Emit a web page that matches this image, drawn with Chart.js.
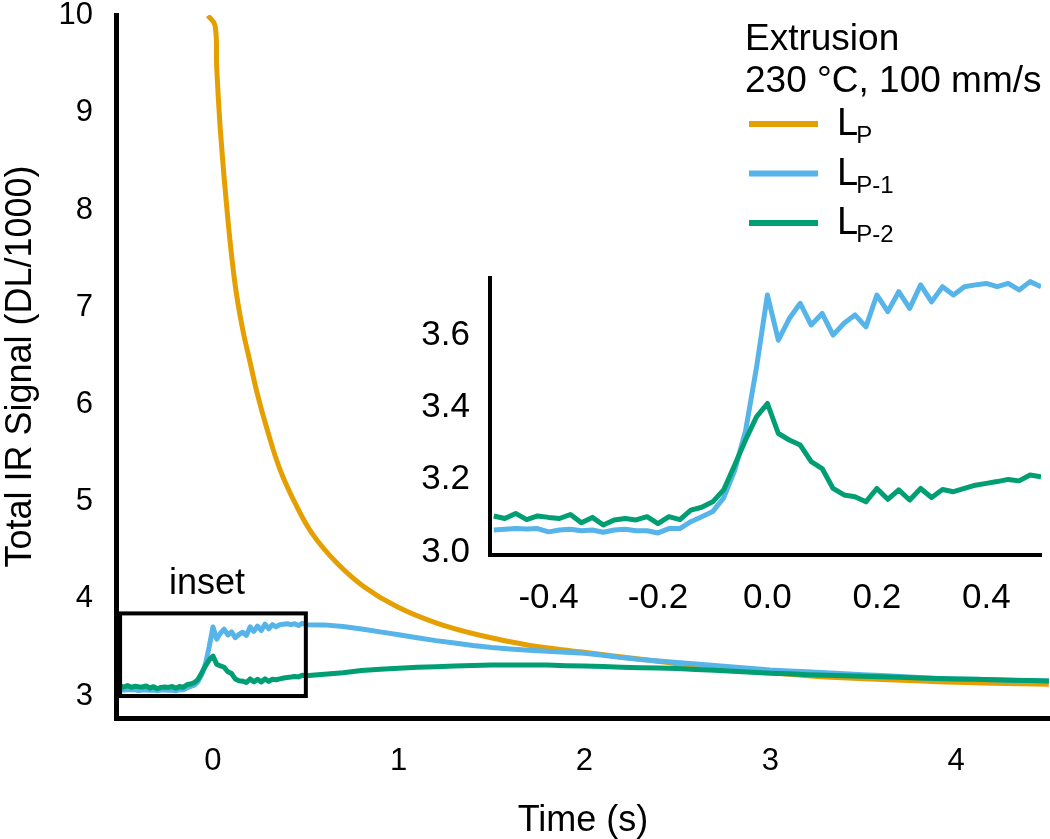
<!DOCTYPE html>
<html>
<head>
<meta charset="utf-8">
<script src="https://cdn.jsdelivr.net/npm/chart.js@4.4.1/dist/chart.umd.min.js"></script>
<style>
  body { margin: 0; background: #fff; }
  #wrap { position: relative; width: 1050px; height: 839px; background: #fff; }
  canvas { position: absolute; display: block; }
  #main-chart { left: 0; top: 0; }
  #inset-chart { left: 400px; top: 250px; }
</style>
</head>
<body>
<div id="wrap">
  <canvas id="main-chart" width="1050" height="839"></canvas>
  <canvas id="inset-chart" width="650" height="370"></canvas>
</div>
<script>
// time (s) for the zoomed part around the start of extrusion
const insetTime = [
  -0.5, -0.48, -0.46, -0.44, -0.42, -0.4, -0.38, -0.36, -0.34, -0.32,
  -0.3, -0.28, -0.26, -0.24, -0.22, -0.2, -0.18, -0.16, -0.14, -0.12,
  -0.1, -0.08, -0.06, -0.04, -0.02, 0, 0.02, 0.04, 0.06, 0.08,
  0.1, 0.12, 0.14, 0.16, 0.18, 0.2, 0.22, 0.24, 0.26, 0.28,
  0.3, 0.32, 0.34, 0.36, 0.38, 0.4, 0.42, 0.44, 0.46, 0.48, 0.5,
];
const insetLp1 = [
  3.061, 3.063, 3.065, 3.064, 3.065, 3.056, 3.061, 3.063, 3.059, 3.061,
  3.055, 3.061, 3.063, 3.059, 3.059, 3.053, 3.065, 3.065, 3.084, 3.098,
  3.112, 3.15, 3.225, 3.335, 3.51, 3.711, 3.586, 3.646, 3.688, 3.628,
  3.66, 3.6, 3.633, 3.656, 3.623, 3.711, 3.665, 3.72, 3.674, 3.739,
  3.692, 3.734, 3.711, 3.734, 3.739, 3.743, 3.734, 3.743, 3.725, 3.748, 3.734,
];
const insetLp2 = [
  3.1, 3.093, 3.107, 3.09, 3.1, 3.096, 3.093, 3.104, 3.081, 3.096,
  3.075, 3.089, 3.093, 3.089, 3.098, 3.079, 3.098, 3.09, 3.116, 3.124,
  3.139, 3.172, 3.24, 3.31, 3.374, 3.411, 3.328, 3.31, 3.296, 3.25,
  3.231, 3.176, 3.158, 3.153, 3.139, 3.176, 3.146, 3.172, 3.144, 3.176,
  3.151, 3.173, 3.167, 3.176, 3.185, 3.19, 3.195, 3.201, 3.197, 3.213, 3.208,
];

// slow part after the inset window
const tailTime = [
  0.6, 0.7, 0.8, 0.9, 1.0, 1.1, 1.2, 1.3, 1.4, 1.5,
  1.6, 1.7, 1.8, 1.9, 2.0, 2.1, 2.2, 2.3, 2.4, 2.5,
  2.6, 2.7, 2.8, 2.9, 3.0, 3.1, 3.2, 3.3, 3.4, 3.5,
  3.6, 3.7, 3.8, 3.9, 4.0, 4.1, 4.2, 4.3, 4.4, 4.5,
];
const tailLp1 = [
  3.732, 3.715, 3.69, 3.66, 3.63, 3.6, 3.57, 3.545, 3.52, 3.5,
  3.485, 3.47, 3.46, 3.45, 3.44, 3.42, 3.395, 3.375, 3.36, 3.345,
  3.33, 3.315, 3.3, 3.283, 3.267, 3.258, 3.249, 3.24, 3.23, 3.22,
  3.21, 3.2, 3.19, 3.18, 3.176, 3.172, 3.167, 3.162, 3.158, 3.154,
];
const tailLp2 = [
  3.225, 3.24, 3.262, 3.275, 3.285, 3.295, 3.3, 3.308, 3.313, 3.318,
  3.32, 3.32, 3.318, 3.312, 3.308, 3.303, 3.297, 3.292, 3.288, 3.282,
  3.274, 3.265, 3.255, 3.245, 3.235, 3.228, 3.22, 3.214, 3.208, 3.203,
  3.198, 3.192, 3.186, 3.18, 3.176, 3.172, 3.167, 3.163, 3.159, 3.155,
];

// L_P decay
const lpTime = [
  -0.027, 0.011, 0.02, 0.041, 0.079, 0.118, 0.157, 0.199, 0.24, 0.289,
  0.361, 0.451, 0.538, 0.666, 0.809, 0.989, 1.204, 1.437, 1.707, 1.976,
  2.34, 2.6, 3.0, 3.36, 3.9, 4.5,
];
const lpSignal = [
  10.0, 9.9, 9.47, 8.79, 7.93, 7.25, 6.8, 6.44, 6.1, 5.76,
  5.33, 4.95, 4.66, 4.37, 4.13, 3.92, 3.75, 3.625, 3.52, 3.456,
  3.37, 3.31, 3.24, 3.19, 3.148, 3.12,
];

const timeTicks = [0, 1, 2, 3, 4];
const signalTicks = [3, 4, 5, 6, 7, 8, 9, 10];
const insetTimeTicks = [-0.4, -0.2, 0, 0.2, 0.4];
const insetSignalTicks = [3.0, 3.2, 3.4, 3.6];

const legendTitle = ['Extrusion', '230 °C, 100 mm/s'];
const seriesSubs = ['P', 'P-1', 'P-2'];
const seriesColors = ['#E69F00', '#56B4E9', '#009E73'];

const fontFamily = "'Liberation Sans', Arial, Helvetica, sans-serif";
Chart.defaults.font.family = fontFamily;
Chart.defaults.color = '#000';

const toPoints = (xs, ys) => xs.map((x, i) => ({ x, y: ys[i] }));

// force the scale box size so the plot area lands where it should
const fitScale = (size) => (scale) => {
  if (scale.isHorizontal()) {
    scale.height = size;
  } else {
    scale.width = size;
  }
  scale.paddingTop = 0;
  scale.paddingBottom = 0;
  scale.paddingLeft = 0;
  scale.paddingRight = 0;
};

const setTicks = (values) => (scale) => {
  scale.ticks = values.map((value) => ({ value }));
};

const lineStyle = (color) => ({
  borderColor: color,
  backgroundColor: color,
  borderWidth: 5,
  pointRadius: 0,
  borderJoinStyle: 'round',
  fill: false,
});

const legendPlugin = {
  id: 'extrusionLegend',
  afterDraw(chart) {
    const ctx = chart.ctx;
    ctx.save();
    ctx.fillStyle = '#000';
    ctx.textAlign = 'left';
    ctx.textBaseline = 'alphabetic';
    ctx.font = `37px ${fontFamily}`;
    legendTitle.forEach((line, i) => ctx.fillText(line, 745, 50 + i * 42));

    seriesSubs.forEach((sub, i) => {
      const y = 124 + i * 49.5;
      ctx.strokeStyle = seriesColors[i];
      ctx.lineWidth = 6;
      ctx.beginPath();
      ctx.moveTo(749, y);
      ctx.lineTo(818, y);
      ctx.stroke();

      ctx.font = `38px ${fontFamily}`;
      ctx.fillText('L', 837, y + 11);
      const w = ctx.measureText('L').width;
      ctx.font = `24px ${fontFamily}`;
      ctx.fillText(sub, 837 + w - 2, y + 19);
    });
    ctx.restore();
  },
};

// box marking the zoomed window plus its label
const insetBoxPlugin = {
  id: 'insetBox',
  afterDatasetsDraw(chart) {
    const { ctx, scales } = chart;
    const x1 = scales.x.getPixelForValue(-0.5);
    const x2 = scales.x.getPixelForValue(0.5);
    const y1 = scales.y.getPixelForValue(3.85);
    const y2 = scales.y.getPixelForValue(3.0);
    ctx.save();
    ctx.strokeStyle = '#000';
    ctx.lineWidth = 4;
    ctx.strokeRect(x1, y1, x2 - x1, y2 - y1);
    ctx.fillStyle = '#000';
    ctx.font = `36px ${fontFamily}`;
    ctx.textAlign = 'center';
    ctx.textBaseline = 'alphabetic';
    ctx.fillText('inset', (x1 + x2) / 2 - 6, y1 - 19);
    ctx.restore();
  },
};

function prepareMainChart() {
  const ctx = document.getElementById('main-chart');
  const lp1Time = insetTime.concat(tailTime);
  const lp1 = insetLp1.concat(tailLp1);
  const lp2 = insetLp2.concat(tailLp2);

  new Chart(ctx, {
    type: 'line',
    data: {
      datasets: [
        {
          label: 'LP',
          data: toPoints(lpTime, lpSignal),
          tension: 0.4,
          order: 3,
          ...lineStyle(seriesColors[0]),
        },
        {
          label: 'LP-1',
          data: toPoints(lp1Time, lp1),
          order: 2,
          ...lineStyle(seriesColors[1]),
        },
        {
          label: 'LP-2',
          data: toPoints(lp1Time, lp2),
          order: 1,
          ...lineStyle(seriesColors[2]),
        },
      ],
    },
    options: {
      responsive: false,
      animation: false,
      devicePixelRatio: 1,
      layout: { padding: { top: 15, right: 0, bottom: 0, left: 0 } },
      plugins: {
        legend: { display: false },
        tooltip: { enabled: false },
      },
      scales: {
        x: {
          type: 'linear',
          min: -0.522,
          max: 4.506,
          afterBuildTicks: setTicks(timeTicks),
          afterFit: fitScale(121),
          grid: { display: false, drawTicks: false },
          border: { display: true, color: '#000', width: 5 },
          ticks: {
            font: { size: 31 },
            padding: 25,
            maxRotation: 0,
            autoSkip: false,
          },
          title: {
            display: true,
            text: 'Time (s)',
            font: { size: 36, lineHeight: 1 },
            padding: 0,
          },
        },
        y: {
          type: 'linear',
          min: 2.774,
          max: 10.006,
          afterBuildTicks: setTicks(signalTicks),
          afterFit: fitScale(116),
          grid: { display: false, drawTicks: false },
          border: { display: true, color: '#000', width: 5 },
          ticks: {
            font: { size: 31, lineHeight: 1 },
            padding: 23,
            autoSkip: false,
          },
          title: {
            display: true,
            text: 'Total IR Signal (DL/1000)',
            font: { size: 36, lineHeight: 1 },
            padding: { top: 3, bottom: 0 },
          },
        },
      },
    },
    plugins: [insetBoxPlugin, legendPlugin],
  });
}

function prepareInsetChart() {
  const ctx = document.getElementById('inset-chart');

  new Chart(ctx, {
    type: 'line',
    data: {
      datasets: [
        {
          label: 'LP-1',
          data: toPoints(insetTime, insetLp1),
          order: 2,
          ...lineStyle(seriesColors[1]),
        },
        {
          label: 'LP-2',
          data: toPoints(insetTime, insetLp2),
          order: 1,
          ...lineStyle(seriesColors[2]),
        },
      ],
    },
    options: {
      responsive: false,
      animation: false,
      devicePixelRatio: 1,
      layout: { padding: { top: 28, right: 9, bottom: 0, left: 0 } },
      plugins: {
        legend: { display: false },
        tooltip: { enabled: false },
      },
      scales: {
        x: {
          type: 'linear',
          min: -0.507,
          max: 0.5,
          afterBuildTicks: setTicks(insetTimeTicks),
          afterFit: fitScale(65),
          grid: { display: false, drawTicks: false },
          border: { display: true, color: '#000', width: 4 },
          ticks: {
            font: { size: 35 },
            padding: 22,
            maxRotation: 0,
            autoSkip: false,
            callback: (v) => Number(v).toFixed(1),
          },
        },
        y: {
          type: 'linear',
          min: 2.992,
          max: 3.758,
          afterBuildTicks: setTicks(insetSignalTicks),
          afterFit: fitScale(90),
          grid: { display: false, drawTicks: false },
          border: { display: true, color: '#000', width: 4 },
          ticks: {
            font: { size: 35, lineHeight: 1 },
            padding: 20,
            autoSkip: false,
            callback: (v) => Number(v).toFixed(1),
          },
        },
      },
    },
  });
}

prepareMainChart();
prepareInsetChart();
</script>
</body>
</html>
